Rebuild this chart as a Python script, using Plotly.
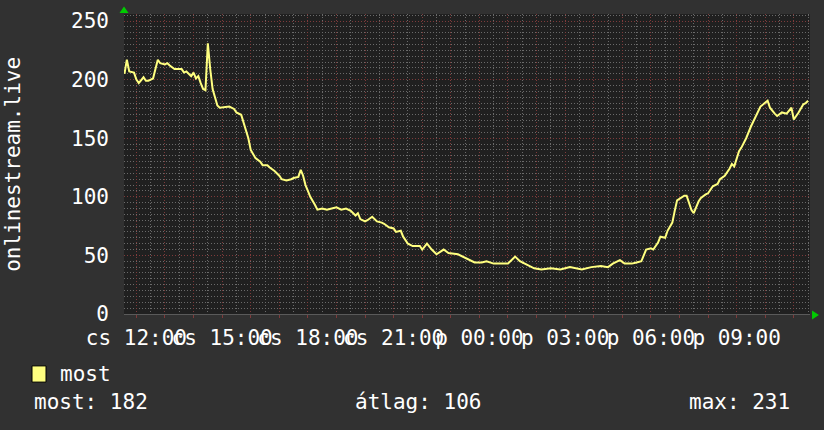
## onlinestream.live listeners over one day, rrdtool look

import pandas as pd
import plotly.graph_objects as go

# sample times (thursday -> friday) and listener counts
times = [
    "11:35", "11:40", "11:45", "11:55", "12:00", "12:05", "12:15", "12:20", "12:25", "12:35",
    "12:40", "12:45", "12:50", "13:00", "13:05", "13:10", "13:20", "13:35", "13:40", "13:45",
    "13:55", "14:00", "14:05", "14:10", "14:15", "14:20", "14:25", "14:30", "14:35", "14:40",
    "14:45", "14:50", "14:55", "15:15", "15:25", "15:30", "15:40", "15:45", "15:50", "15:55",
    "16:00", "16:05", "16:10", "16:20", "16:25", "16:35", "16:40", "16:50", "17:00", "17:05",
    "17:15", "17:25", "17:30", "17:40", "17:45", "17:50", "17:55", "18:00", "18:05", "18:15",
    "18:20", "18:30", "18:40", "18:50", "19:00", "19:10", "19:20", "19:30", "19:40", "19:45",
    "19:50", "20:00", "20:05", "20:15", "20:25", "20:35", "20:40", "20:50", "21:00", "21:05",
    "21:15", "21:20", "21:30", "21:40", "21:55", "22:00", "22:10", "22:20", "22:30", "22:45",
    "22:55", "23:15", "23:35", "23:50", "00:05", "00:15", "00:30", "01:00", "01:05", "01:15",
    "01:25", "01:45", "01:55", "02:10", "02:30", "02:50", "03:10", "03:35", "03:55", "04:15",
    "04:30", "04:40", "04:55", "05:05", "05:20", "05:30", "05:40", "05:50", "06:00", "06:05",
    "06:15", "06:20", "06:30", "06:35", "06:45", "06:50", "06:55", "07:10", "07:15", "07:25",
    "07:30", "07:40", "07:45", "07:55", "08:00", "08:10", "08:20", "08:25", "08:35", "08:45",
    "08:50", "08:55", "09:05", "09:10", "09:20", "09:30", "09:40", "09:50", "10:05", "10:10",
    "10:20", "10:25", "10:35", "10:45", "10:55", "11:00", "11:10", "11:20", "11:25", "11:30",
]
values = [
    205, 217, 207, 206, 200, 197, 202, 199, 199, 201,
    209, 217, 214, 213, 214, 212, 209, 209, 206, 207,
    203, 206, 201, 203, 197, 192, 191, 231, 209, 192,
    185, 178, 176, 177, 175, 172, 170, 163, 158, 150,
    140, 137, 133, 130, 127, 127, 125, 122, 118, 115,
    114, 115, 116, 117, 123, 118, 110, 105, 100, 93,
    89, 90, 89, 90, 91, 89, 90, 88, 84, 86,
    81, 79, 80, 83, 79, 78, 77, 74, 73, 70,
    71, 66, 60, 58, 58, 55, 60, 55, 51, 55,
    52, 51, 47, 44, 44, 45, 43, 43, 45, 49,
    45, 41, 39, 38, 39, 38, 40, 38, 40, 41,
    40, 43, 46, 43, 43, 44, 45, 55, 56, 55,
    61, 66, 65, 71, 78, 88, 97, 101, 101, 89,
    86, 96, 99, 102, 103, 109, 111, 115, 118, 124,
    128, 126, 139, 142, 150, 160, 169, 177, 182, 176,
    171, 169, 172, 171, 176, 166, 172, 179, 180, 182,
]

tick_labels = ["cs 12:00", "cs 15:00", "cs 18:00", "cs 21:00",
               "p 00:00", "p 03:00", "p 06:00", "p 09:00"]
legend_name = "most"
stats = ["most: 182", "átlag: 106", "max: 231"]

# turn HH:MM into timestamps, rolling over midnight
day = pd.Timestamp("2024-01-04")
stamps = []
for t in times:
    ts = day + pd.Timedelta(hours=int(t[:2]), minutes=int(t[3:]))
    if stamps and ts < stamps[-1]:
        day += pd.Timedelta(days=1)
        ts += pd.Timedelta(days=1)
    stamps.append(ts)

hours = pd.date_range("2024-01-04 12:00", "2024-01-05 11:00", freq="h")
hour_text = []
i = 0
for h in hours:
    if h.hour % 3 == 0:
        hour_text.append(tick_labels[i])
        i += 1
    else:
        hour_text.append("")

font = "DejaVu Sans Mono"
minor_col = "#6a6a6a"
major_col = "#7e3b3b"
dots = "1px,2px"

fig = go.Figure()
fig.add_trace(go.Scatter(
    x=stamps, y=values, mode="lines",
    line=dict(color="#ffff80", width=2),
    showlegend=False
))

fig.update_layout(
    width=824, height=430,
    paper_bgcolor="#313131",
    plot_bgcolor="#202020",
    margin=dict(l=124, r=14, t=14, b=116),
    font=dict(family=font, size=21, color="#ffffff"),
    xaxis=dict(
        range=["2024-01-04 11:34", "2024-01-05 11:34"],
        tickvals=hours, ticktext=hour_text, tickangle=0,
        showgrid=True, gridcolor=major_col, griddash=dots, gridwidth=1,
        ticks="outside", ticklen=3, tickcolor=major_col,
        ticklabelstandoff=2, automargin=False,
        minor=dict(dtick=30 * 60 * 1000, tick0="2024-01-04 12:00", showgrid=True,
                   gridcolor=minor_col, griddash=dots, ticks=""),
        showline=True, linecolor="#5a5a5a", linewidth=1,
        zeroline=False, fixedrange=True,
    ),
    yaxis=dict(
        range=[0, 256],
        tick0=0, dtick=50, automargin=False,
        showgrid=True, gridcolor=major_col, griddash=dots, gridwidth=1,
        ticks="", ticklabelstandoff=14,
        minor=dict(dtick=5, tick0=0, showgrid=True,
                   gridcolor=minor_col, griddash=dots),
        zeroline=False, fixedrange=True,
    ),
)

# y axis title
fig.add_annotation(text="onlinestream.live", textangle=-90,
                   xref="paper", yref="paper", x=-0.162, y=0.5,
                   xanchor="center", yanchor="middle", showarrow=False)

# green axis arrows
fig.add_shape(type="path", xref="paper", yref="paper",
              path="M -0.0066,1.003 L 0.0066,1.003 L 0,1.025 Z",
              fillcolor="#00cc00", line=dict(width=0))
fig.add_shape(type="path", xref="paper", yref="paper",
              path="M 1.003,0.012 L 1.003,-0.018 L 1.013,-0.003 Z",
              fillcolor="#00cc00", line=dict(width=0))

# legend row
fig.add_shape(type="rect", xref="paper", yref="paper",
              x0=-0.1341, x1=-0.1137, y0=-0.173, y1=-0.227,
              fillcolor="#ffff80", line=dict(color="#000000", width=1))
fig.add_annotation(text=legend_name, xref="paper", yref="paper",
                   x=-0.0962, y=-0.2, xanchor="left", yanchor="middle",
                   showarrow=False)

# stats row
for txt, xp in zip(stats, [-0.1341, 0.3338, 0.8207]):
    fig.add_annotation(text=txt, xref="paper", yref="paper",
                       x=xp, y=-0.2933, xanchor="left", yanchor="middle",
                       showarrow=False)

fig.write_html("out.html", config={"displayModeBar": False},
               post_script="document.body.style.margin='0';")
